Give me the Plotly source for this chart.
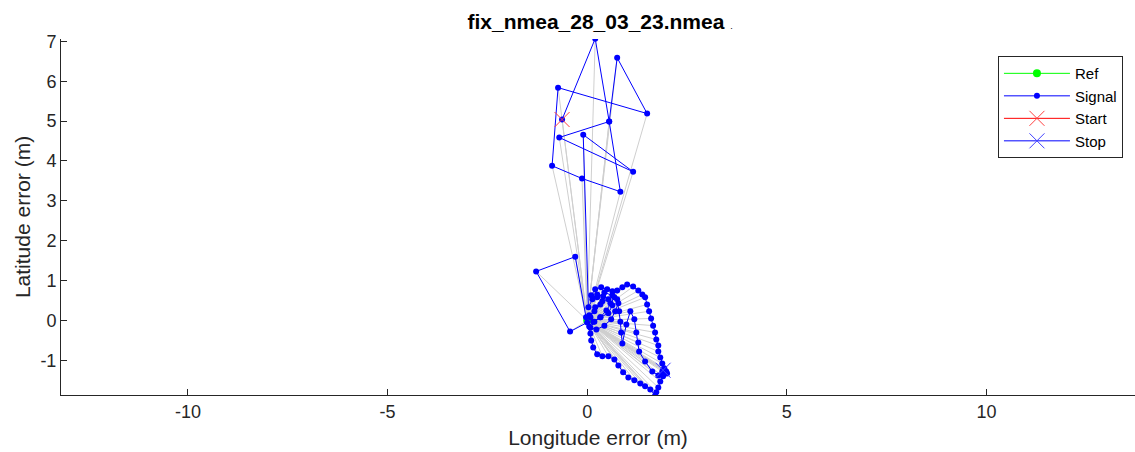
import plotly.graph_objects as go

# Signal trajectory: longitude / latitude error (m)
sig_lon = [-0.63, 0.20, 0.55, 0.75, 1.50, -0.73, -0.88, -0.13, 0.83, 0.55, -0.70, 1.15, -0.10,
           0.03, 0.13, 0.25, 0.40, 0.33, 0.18, 0.05, -0.03,
           -0.30, -1.28, -0.43, 0.00,
           0.08, 0.20, 0.38, 0.53, 0.63, 0.53, 0.33, 0.18, 0.08, 0.23, 0.43, 0.60, 0.70, 0.78, 0.63, 0.43, 0.25,
           0.10, 0.20, 0.35, 0.50, 0.63, 0.75, 0.88, 1.00, 1.15, 1.28, 1.38, 1.45,
           1.50, 1.55, 1.60, 1.65, 1.70, 1.73, 1.78, 1.78, 1.83, 1.88, 1.93, 1.98, 2.00,
           1.90, 1.83, 1.78, 1.73, 1.70,
           1.58, 1.45, 1.33, 1.18, 1.03, 0.90, 0.78, 0.68, 0.53, 0.38, 0.25, 0.15, 0.10, 0.08, 0.05,
           0.15, 0.33, 0.48, 0.58, 0.68, 0.75, 0.80, 0.83, 0.85, 0.88,
           0.98, 1.08, 1.18, 1.23, 1.28, 1.30, 1.45, 1.63, 1.78, 1.88, 1.93, 1.90]
sig_lat = [5.04, 7.07, 4.99, 6.59, 5.19, 5.84, 3.88, 3.56, 3.23, 4.99, 4.59, 3.73, 4.66,
           0.33, 0.53, 0.65, 0.60, 0.40, 0.23, 0.13, 0.08,
           1.60, 1.23, -0.28, -0.05,
           0.08, 0.33, 0.48, 0.53, 0.38, 0.18, 0.08, -0.03, -0.18, -0.23, -0.13, 0.03, 0.23, 0.43, 0.63, 0.70, 0.58,
           0.63, 0.78, 0.83, 0.78, 0.73, 0.75, 0.83, 0.90, 0.85, 0.75, 0.65, 0.58,
           0.40, 0.23, 0.05, -0.13, -0.30, -0.48, -0.63, -0.78, -0.93, -1.08, -1.20, -1.28, -1.33,
           -1.40, -1.53, -1.68, -1.80, -1.88,
           -1.73, -1.65, -1.58, -1.50, -1.43, -1.30, -1.13, -0.98, -0.90, -0.90, -0.85, -0.68, -0.50, -0.33, -0.15,
           -0.03, 0.08, 0.25, 0.43, 0.58, 0.53, 0.23, -0.03, -0.30, -0.58,
           -0.10, 0.23, 0.03, -0.30, -0.55, -0.78, -1.03, -1.28, -1.38, -1.28, -1.23, -1.25]

# Reference position (error frame origin)
ref_lon = [0.0]
ref_lat = [0.0]

title_text = "fix_nmea_28_03_23.nmea"
x_ticks = [-10, -5, 0, 5, 10]
x_tick_labels = ["-10", "-5", "0", "5", "10"]
y_ticks = [-1, 0, 1, 2, 3, 4, 5, 6, 7]
y_tick_labels = ["-1", "0", "1", "2", "3", "4", "5", "6", "7"]

# gray error lines from reference to each signal point
gx, gy = [], []
for lo, la in zip(sig_lon, sig_lat):
    gx += [ref_lon[0], lo, None]
    gy += [ref_lat[0], la, None]

fig = go.Figure()
fig.add_trace(go.Scatter(x=gx, y=gy, mode="lines", line=dict(color="#cfcfcf", width=1),
                         showlegend=False, hoverinfo="skip"))
fig.add_trace(go.Scatter(x=ref_lon, y=ref_lat, mode="lines+markers", name="Ref",
                         line=dict(color="#00ff00", width=1),
                         marker=dict(color="#00ff00", size=8)))
fig.add_trace(go.Scatter(x=sig_lon, y=sig_lat, mode="lines+markers", name="Signal",
                         line=dict(color="#0000ff", width=1),
                         marker=dict(color="#0000ff", size=6)))
fig.add_trace(go.Scatter(x=sig_lon[:1], y=sig_lat[:1], mode="lines+markers", name="Start",
                         line=dict(color="#ff0000", width=1),
                         marker=dict(symbol="x-thin", size=15, line=dict(color="#ff4040", width=1))))
fig.add_trace(go.Scatter(x=sig_lon[-1:], y=sig_lat[-1:], mode="lines+markers", name="Stop",
                         line=dict(color="#0000ff", width=1),
                         marker=dict(symbol="x-thin", size=15, line=dict(color="#4040ff", width=1))))

axis_col = "#262626"
fig.update_layout(
    width=1135, height=452,
    margin=dict(l=61, r=0, t=39, b=57),
    paper_bgcolor="white", plot_bgcolor="white",
    font=dict(family="Liberation Sans, Arial, sans-serif", color=axis_col),
    title=dict(text="<b>" + title_text + "</b> <span style='font-size:9px'>.</span>",
               x=0.502, xanchor="center", xref="paper",
               y=0.951, yanchor="middle", font=dict(size=21, color="black")),
    xaxis=dict(range=[-13.18, 13.72], tickvals=x_ticks, ticktext=x_tick_labels,
               ticks="inside", ticklen=6,
               tickcolor=axis_col, showline=True, linecolor=axis_col, linewidth=1,
               showgrid=False, zeroline=False, tickfont=dict(size=18, color=axis_col),
               title=dict(text="Longitude error (m)", font=dict(size=21, color=axis_col), standoff=9)),
    yaxis=dict(range=[-1.87, 7.06], tickvals=y_ticks, ticktext=y_tick_labels,
               ticks="inside", ticklen=6,
               tickcolor=axis_col, showline=True, linecolor=axis_col, linewidth=1,
               showgrid=False, zeroline=False, tickfont=dict(size=18, color=axis_col),
               title=dict(text="Latitude error (m)", font=dict(size=21, color=axis_col), standoff=4)),
    legend=dict(x=0.8724, y=0.952, xanchor="left", yanchor="top",
                bgcolor="white", bordercolor=axis_col, borderwidth=1,
                font=dict(size=15, color="black"), itemwidth=66, tracegroupgap=0),
    showlegend=True,
)

fig.write_html("out.html")
